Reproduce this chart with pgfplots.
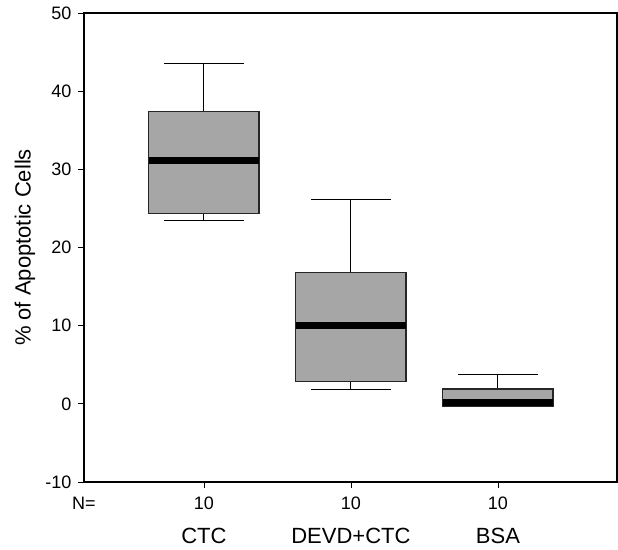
\documentclass[border=0pt]{standalone}
\usepackage{fontspec}
\setmainfont{Liberation Sans}
\usepackage{pgfplots}
\pgfplotsset{compat=1.18}
\usepgfplotslibrary{statistics}
\definecolor{boxgray}{RGB}{166,166,166}
\begin{document}
\begin{tikzpicture}
\begin{axis}[
 scale only axis, width=533pt, height=469pt,
 xmin=0.184, xmax=3.81, ymin=-10, ymax=50,
 ytick={-10,0,10,20,30,40,50}, yticklabels={-10,0,10,20,30,40,50},
 xtick={1,2,3}, xticklabels={10,10,10},
 tick align=outside, tick pos=left, major tick length=6pt,
 tick style={black, line width=0.8pt},
 axis line style={line width=1.2pt},
 ticklabel style={font=\fontsize{18}{20}\selectfont},
 xticklabel style={yshift=-5pt},
 yticklabel style={xshift=-3pt},
 ylabel={\% of Apoptotic Cells},
 ylabel style={font=\fontsize{22}{26}\selectfont, at={(axis description cs:-0.1107,0.5)}, anchor=center},
 boxplot/draw direction=y,
 boxplot/box extend=0.75,
 boxplot/whisker extend=0.54,
 boxplot/every box/.style={fill=boxgray, draw=black!85, line width=1.2pt},
 boxplot/every whisker/.style={black, line width=1pt},
 boxplot/every median/.style={black, line width=7pt},
 clip=false,
]
\addplot[black, solid, boxplot prepared={draw position=1, median=31.15, upper quartile=37.4, lower quartile=24.3, upper whisker=43.6, lower whisker=23.4}] coordinates {};
\addplot[black, solid, boxplot prepared={draw position=2, median=10.0, upper quartile=16.8, lower quartile=2.9, upper whisker=26.1, lower whisker=1.8}] coordinates {};
\addplot[black, solid, boxplot prepared={draw position=3, median=0.2, upper quartile=1.9, lower quartile=-0.3, upper whisker=3.75, lower whisker=-0.3}] coordinates {};
\node[font=\fontsize{18}{20}\selectfont] at (rel axis cs:0,0) [yshift=-21pt] {N=};
\node[font=\fontsize{22}{26}\selectfont] at (axis cs:1,-10) [yshift=-54pt] {CTC};
\node[font=\fontsize{22}{26}\selectfont] at (axis cs:2,-10) [yshift=-54pt] {DEVD+CTC};
\node[font=\fontsize{22}{26}\selectfont] at (axis cs:3,-10) [yshift=-54pt] {BSA};
\end{axis}
\path (-84pt,-67pt) rectangle (534pt,482pt);
\end{tikzpicture}
\end{document}
